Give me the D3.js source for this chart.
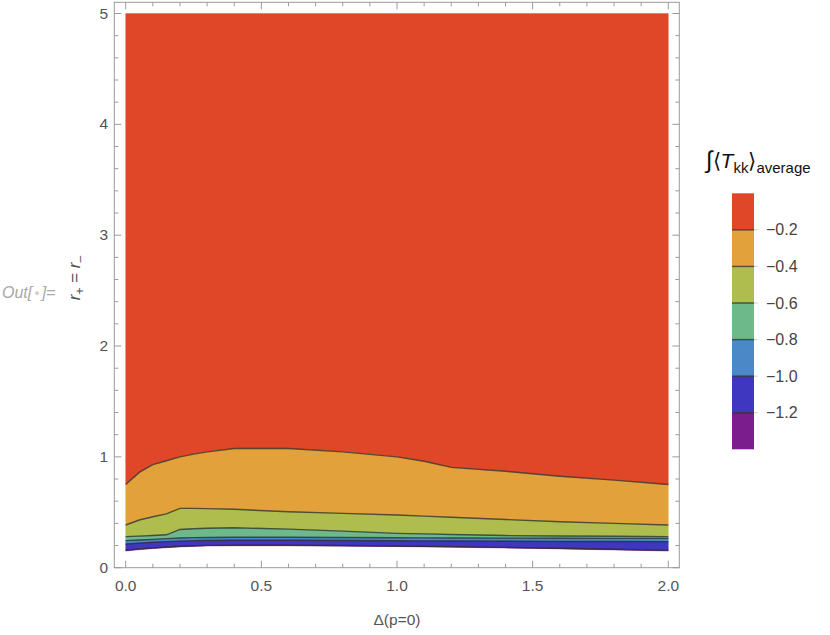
<!DOCTYPE html>
<html><head><meta charset="utf-8">
<script src="https://cdn.jsdelivr.net/npm/d3@7"></script>
<style>
body{margin:0;background:#fff;}
svg{display:block;font-family:"Liberation Sans",Arial,sans-serif;}
</style></head>
<body><svg id="c" width="830" height="635"></svg>
<script>
// Sample points along Δ(p=0)
const deltaVals = [0, 0.05, 0.1, 0.15, 0.2, 0.25, 0.3, 0.4, 0.6, 0.8, 1.0, 1.1, 1.2, 1.4, 1.6, 1.8, 2.0];
// Contour boundaries r(Δ) for each level
const contour02 = [0.75, 0.86, 0.93, 0.965, 1.0, 1.025, 1.045, 1.075, 1.075, 1.045, 1.0, 0.96, 0.905, 0.87, 0.825, 0.79, 0.75];
const contour04 = [0.385, 0.43, 0.46, 0.485, 0.535, 0.535, 0.533, 0.527, 0.505, 0.49, 0.475, 0.465, 0.455, 0.435, 0.415, 0.40, 0.385];
const contour06 = [0.28, 0.285, 0.29, 0.297, 0.345, 0.352, 0.356, 0.36, 0.348, 0.33, 0.31, 0.305, 0.30, 0.29, 0.286, 0.284, 0.28];
const contour08 = [0.244, 0.25, 0.256, 0.262, 0.268, 0.271, 0.273, 0.275, 0.275, 0.273, 0.27, 0.269, 0.268, 0.267, 0.266, 0.265, 0.265];
const contour10 = [0.214, 0.222, 0.229, 0.235, 0.24, 0.244, 0.246, 0.248, 0.248, 0.246, 0.243, 0.242, 0.241, 0.239, 0.237, 0.236, 0.235];
const contour12 = [0.158, 0.17, 0.179, 0.187, 0.193, 0.198, 0.201, 0.203, 0.203, 0.2, 0.196, 0.193, 0.19, 0.183, 0.175, 0.166, 0.156];
const regionBottom = [0.15, 0.162, 0.172, 0.18, 0.187, 0.192, 0.195, 0.197, 0.197, 0.194, 0.19, 0.187, 0.184, 0.177, 0.169, 0.16, 0.15];
const regionTop = 5;
const levels = [-0.2, -0.4, -0.6, -0.8, -1.0, -1.2];
const levelLabels = ["\u22120.2", "\u22120.4", "\u22120.6", "\u22120.8", "\u22121.0", "\u22121.2"];
const bandColors = ["#e04628", "#e2a13a", "#aebd4e", "#6db98a", "#4a88c8", "#3f37c0", "#7b1d8c"];
const xTicks = [0, 0.5, 1.0, 1.5, 2.0];
const xTickLabels = ["0.0", "0.5", "1.0", "1.5", "2.0"];
const yTicks = [0, 1, 2, 3, 4, 5];

const svg = d3.select("#c");
const x = d3.scaleLinear().domain([0, 2]).range([125.7, 668.3]);
const y = d3.scaleLinear().domain([0, 5]).range([567.7, 13.5]);
const frame = {l: 114.3, r: 679.3, t: 2.3, b: 567.7};

const tops = [deltaVals.map(() => regionTop), contour02, contour04, contour06, contour08, contour10, contour12];
const bots = [contour02, contour04, contour06, contour08, contour10, contour12, regionBottom];
const idx = d3.range(deltaVals.length);

const g = svg.append("g");
bandColors.forEach((c, k) => {
  const area = d3.area()
    .x(i => x(deltaVals[i]))
    .y0(i => y(bots[k][i]))
    .y1(i => y(tops[k][i]));
  g.append("path").attr("d", area(idx)).attr("fill", c).attr("stroke", c).attr("stroke-width", 0.4);
});
[contour02, contour04, contour06, contour08, contour10, contour12].forEach(arr => {
  const line = d3.line().x(i => x(deltaVals[i])).y(i => y(arr[i]));
  g.append("path").attr("d", line(idx)).attr("fill", "none")
    .attr("stroke", "#2a2a2a").attr("stroke-opacity", 0.75).attr("stroke-width", 1.4);
});

// Frame
svg.append("rect").attr("x", frame.l).attr("y", frame.t)
  .attr("width", frame.r - frame.l).attr("height", frame.b - frame.t)
  .attr("fill", "none").attr("stroke", "#9a9a9a").attr("stroke-width", 1);

const tickCol = "#9a9a9a";
function ticks(vals, len, fn) {
  vals.forEach(v => fn(v, len));
}
const xMinor = d3.range(0, 2.0001, 0.1).filter(v => !xTicks.some(t => Math.abs(t - v) < 1e-6));
const yMinor = d3.range(0, 5.0001, 0.2).filter(v => !yTicks.some(t => Math.abs(t - v) < 1e-6));
const tg = svg.append("g").attr("stroke", tickCol).attr("stroke-width", 1);
function xt(v, len) {
  tg.append("line").attr("x1", x(v)).attr("x2", x(v)).attr("y1", frame.b).attr("y2", frame.b - len);
  tg.append("line").attr("x1", x(v)).attr("x2", x(v)).attr("y1", frame.t).attr("y2", frame.t + len);
}
function yt(v, len) {
  tg.append("line").attr("y1", y(v)).attr("y2", y(v)).attr("x1", frame.l).attr("x2", frame.l + len);
  tg.append("line").attr("y1", y(v)).attr("y2", y(v)).attr("x1", frame.r).attr("x2", frame.r - len);
}
ticks(xTicks, 7, xt); ticks(xMinor, 4, xt);
ticks(yTicks, 7, yt); ticks(yMinor, 4, yt);

const lab = "#555";
svg.append("g").selectAll("text").data(xTicks).join("text")
  .attr("x", d => x(d)).attr("y", 591).attr("text-anchor", "middle")
  .attr("font-size", 15.5).attr("fill", lab).text((d, i) => xTickLabels[i]);
svg.append("g").selectAll("text").data(yTicks).join("text")
  .attr("x", 108).attr("y", d => y(d) + 5).attr("text-anchor", "end")
  .attr("font-size", 15.5).attr("fill", lab).text(d => d);

svg.append("text").attr("x", 397).attr("y", 625).attr("text-anchor", "middle")
  .attr("font-size", 15.5).attr("fill", lab).text("\u0394(p=0)");

const yl = svg.append("text").attr("transform", "translate(80,278) rotate(-90)")
  .attr("text-anchor", "middle").attr("font-size", 17).attr("fill", lab);
yl.append("tspan").attr("font-style", "italic").text("r");
yl.append("tspan").attr("dy", 4).attr("font-size", 12).text("+");
yl.append("tspan").attr("dy", -4).text(" = ");
yl.append("tspan").attr("font-style", "italic").text("r");
yl.append("tspan").attr("dy", 4).attr("font-size", 12).text("\u2013");

const out = svg.append("text").attr("x", 2).attr("y", 298).attr("font-size", 16)
  .attr("fill", "#a8a8a8").attr("font-style", "italic");
out.append("tspan").text("Out[");
out.append("tspan").attr("font-style", "normal").attr("font-size", 9).attr("dy", -2).attr("dx", 2).attr("fill", "#cfcfcf").text("\u25CF");
out.append("tspan").attr("dy", 2).attr("dx", 2).text("]=");

// Legend
const lx = 732, ltop = 193.3, lbot = 449.3;
const ly = d3.scaleLinear().domain([0, bandColors.length]).range([ltop, lbot]);
bandColors.forEach((c, k) => {
  svg.append("rect").attr("x", lx).attr("y", ly(k)).attr("width", 22)
    .attr("height", ly(k + 1) - ly(k)).attr("fill", c);
});
levels.forEach((lv, k) => {
  svg.append("line").attr("x1", lx).attr("x2", lx + 22).attr("y1", ly(k + 1)).attr("y2", ly(k + 1))
    .attr("stroke", "#2a2a2a").attr("stroke-opacity", 0.75).attr("stroke-width", 1.4);
  svg.append("line").attr("x1", lx + 22).attr("x2", lx + 26).attr("y1", ly(k + 1)).attr("y2", ly(k + 1))
    .attr("stroke", "#ccc");
  svg.append("text").attr("x", 766).attr("y", ly(k + 1) + 5.5).attr("font-size", 16)
    .attr("fill", "#444").text(levelLabels[k]);
});
const tt = svg.append("text").attr("x", 706).attr("y", 168).attr("font-size", 21).attr("fill", "#111");
tt.append("tspan").attr("font-size", 24).text("\u222B");
tt.append("tspan").text("\u27E8");
tt.append("tspan").attr("font-style", "italic").text("T");
tt.append("tspan").attr("dy", 5).attr("font-size", 15).text("kk");
tt.append("tspan").attr("dy", -5).text("\u27E9");
tt.append("tspan").attr("dy", 5).attr("font-size", 15).text("average");
</script></body></html>
